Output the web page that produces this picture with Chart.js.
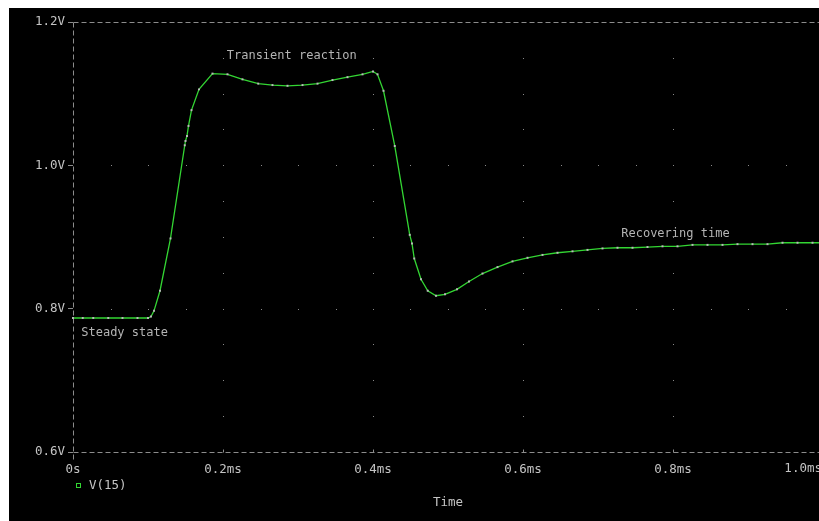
<!DOCTYPE html>
<html>
<head>
<meta charset="utf-8">
<script src="https://cdn.jsdelivr.net/npm/chart.js@4/dist/chart.umd.min.js"></script>
<style>
  html, body { margin: 0; padding: 0; background: #ffffff; overflow: hidden; width: 819px; height: 521px; }
  #wrap { position: absolute; left: 9px; top: 8px; width: 830px; height: 513px; background: #000000; overflow: visible; }
  canvas { display: block; width: 830px !important; height: 513px !important; }
</style>
</head>
<body>
<div id="wrap"><canvas id="c" width="830" height="513" style="width:830px;height:513px"></canvas></div>
<script>
// ---- data ----
const seriesName = 'V(15)';
const timeMs = [0.000, 0.013, 0.027, 0.047, 0.066, 0.086, 0.100, 0.104, 0.108, 0.116,
  0.130, 0.149, 0.150, 0.152, 0.154, 0.158, 0.168, 0.186, 0.206, 0.226,
  0.247, 0.266, 0.286, 0.306, 0.326, 0.346, 0.366, 0.386, 0.400, 0.406,
  0.414, 0.429, 0.449, 0.452, 0.455, 0.464, 0.473, 0.484, 0.496, 0.512,
  0.528, 0.546, 0.566, 0.586, 0.606, 0.626, 0.646, 0.666, 0.686, 0.706,
  0.726, 0.746, 0.766, 0.786, 0.806, 0.826, 0.846, 0.866, 0.886, 0.906,
  0.926, 0.946, 0.966, 0.986, 1.000];
const voltage = [0.787, 0.787, 0.787, 0.787, 0.787, 0.787, 0.787, 0.789, 0.797, 0.825,
  0.898, 1.028, 1.034, 1.041, 1.055, 1.077, 1.106, 1.128, 1.127, 1.120,
  1.114, 1.112, 1.111, 1.112, 1.114, 1.119, 1.123, 1.127, 1.131, 1.127,
  1.104, 1.027, 0.903, 0.891, 0.870, 0.841, 0.825, 0.818, 0.820, 0.827,
  0.838, 0.849, 0.858, 0.866, 0.871, 0.875, 0.878, 0.880, 0.882, 0.884,
  0.885, 0.885, 0.886, 0.887, 0.887, 0.889, 0.889, 0.889, 0.890, 0.890,
  0.890, 0.892, 0.892, 0.892, 0.892];
const xTickLabels = ['0s', '0.2ms', '0.4ms', '0.6ms', '0.8ms', '1.0ms'];
const yTickLabels = ['0.6V', '0.8V', '1.0V', '1.2V'];
const noteTexts = ['Transient reaction', 'Steady state', 'Recovering time'];
const noteTimes = [0.205, 0.011, 0.731];
const noteVolts = [1.153, 0.766, 0.904];

const MONO = '"DejaVu Sans Mono", "Liberation Mono", monospace';
const LABEL = '#c4c4c4';
const FRAME = '#8c8c8c';
const LINE = '#33d633';
const TICK_FONT = '12.5px ' + MONO;

const points = timeMs.map((t, i) => ({ x: t, y: voltage[i] }));

const framePlugin = {
  id: 'frame',
  beforeDatasetsDraw(chart) {
    const { ctx, chartArea: a, scales: { x, y } } = chart;
    ctx.save();
    ctx.fillStyle = '#8a8a8a';
    const xt = x.ticks, yt = y.ticks;
    const vStep = 0.05, tStep = 0.05;
    for (let i = 1; i < xt.length; i++) {
      const px = Math.round(x.getPixelForValue(xt[i].value));
      for (let v = y.min + vStep; v < y.max - 1e-6; v += vStep) {
        ctx.fillRect(px, Math.round(y.getPixelForValue(v)), 1, 1);
      }
    }
    for (let j = 1; j < yt.length - 1; j++) {
      const py = Math.round(y.getPixelForValue(yt[j].value));
      for (let t = x.min + tStep; t < x.max + 1e-6; t += tStep) {
        ctx.fillRect(Math.round(x.getPixelForValue(t)), py, 1, 1);
      }
    }
    ctx.strokeStyle = FRAME;
    ctx.lineWidth = 1;
    ctx.setLineDash([5, 3]);
    const L = Math.round(a.left) + 0.5, T = Math.round(a.top) + 0.5, B = Math.round(a.bottom) + 0.5;
    ctx.beginPath(); ctx.moveTo(L, T); ctx.lineTo(a.right + 20, T); ctx.stroke();
    ctx.beginPath(); ctx.moveTo(L, B); ctx.lineTo(a.right + 20, B); ctx.stroke();
    ctx.beginPath(); ctx.moveTo(L, T); ctx.lineTo(L, B + 10); ctx.stroke();
    ctx.setLineDash([]);
    for (let i = 1; i < xt.length; i++) {
      const px = Math.round(x.getPixelForValue(xt[i].value)) + 0.5;
      ctx.beginPath(); ctx.moveTo(px, B); ctx.lineTo(px, B - 3); ctx.stroke();
    }
    ctx.restore();
  },
  afterDraw(chart) {
    const { ctx, chartArea: a, scales: { x, y } } = chart;
    ctx.save();
    ctx.font = '12px ' + MONO;
    ctx.fillStyle = '#b4b4b4';
    ctx.textBaseline = 'middle';
    ctx.textAlign = 'left';
    noteTexts.forEach((txt, i) => {
      ctx.fillText(txt, x.getPixelForValue(noteTimes[i]), y.getPixelForValue(noteVolts[i]));
    });
    // last time label, end-aligned at the right end of the axis
    const last = x.ticks.length - 1;
    ctx.font = TICK_FONT;
    ctx.fillStyle = LABEL;
    ctx.textAlign = 'right';
    ctx.fillText(xTickLabels[last], x.getPixelForValue(x.ticks[last].value) - 1, Math.round(a.bottom) + 17);
    // legend
    ctx.textAlign = 'left';
    const lx = Math.round(a.left) + 3, ly = Math.round(a.bottom) + 31;
    ctx.strokeStyle = LINE;
    ctx.lineWidth = 1;
    ctx.strokeRect(lx + 0.5, ly + 0.5, 4, 4);
    ctx.fillText(chart.data.datasets[0].label, lx + 13, ly + 3);
    ctx.restore();
  }
};

new Chart(document.getElementById('c'), {
  type: 'line',
  data: {
    datasets: [{
      label: seriesName,
      data: points,
      borderColor: LINE,
      borderWidth: 1.3,
      tension: 0,
      pointStyle: 'rect',
      pointRadius: 1.4,
      pointBackgroundColor: '#b8b8b8',
      pointBorderColor: '#b8b8b8',
      pointBorderWidth: 0,
      clip: false
    }]
  },
  options: {
    responsive: false,
    maintainAspectRatio: false,
    animation: false,
    events: [],
    layout: { autoPadding: false, padding: { top: 14, right: 16, left: 0, bottom: 0 } },
    plugins: { legend: { display: false }, tooltip: { enabled: false } },
    scales: {
      x: {
        type: 'linear', min: 0, max: 1.0,
        afterFit: s => { s.height = 69; s.paddingLeft = 0; s.paddingRight = 0; },
        ticks: {
          stepSize: 0.2, color: LABEL, padding: 10, maxRotation: 0, autoSkip: false,
          font: { family: MONO, size: 12.5 },
          callback: (v, i, arr) => (i === arr.length - 1 ? '' : xTickLabels[i])
        },
        grid: { display: true, drawOnChartArea: false, drawTicks: false },
        border: { display: false },
        title: { display: true, text: 'Time', color: LABEL, font: { family: MONO, size: 12.5 }, padding: { top: 0, bottom: 11 } }
      },
      y: {
        type: 'linear', min: 0.6, max: 1.2,
        afterFit: s => { s.width = 64; s.paddingTop = 0; s.paddingBottom = 0; },
        ticks: {
          stepSize: 0.2, color: LABEL, padding: 3, autoSkip: false,
          font: { family: MONO, size: 12.5 },
          callback: (v, i) => yTickLabels[i]
        },
        grid: { display: true, drawOnChartArea: false, drawTicks: true, tickLength: 5, tickColor: FRAME },
        border: { display: false }
      }
    }
  },
  plugins: [framePlugin]
});
</script>
</body>
</html>
